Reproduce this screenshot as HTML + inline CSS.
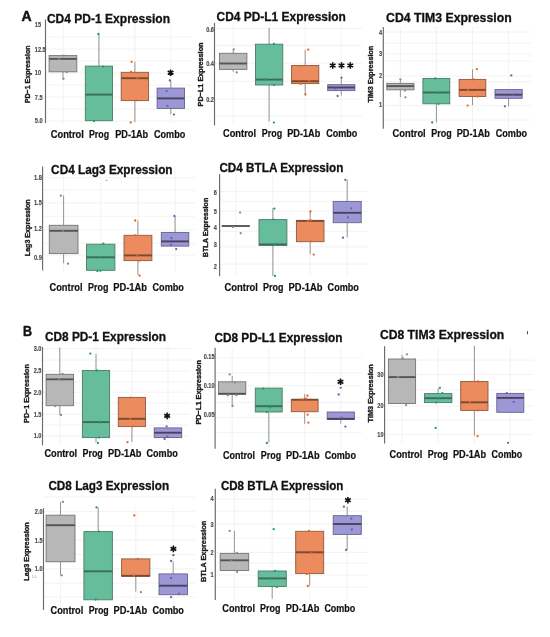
<!DOCTYPE html>
<html><head><meta charset="utf-8"><style>
html,body{margin:0;padding:0;background:#fff;width:550px;height:637px;overflow:hidden}
svg{display:block;font-family:"Liberation Sans", sans-serif;will-change:transform;filter:blur(0.3px)}
</style></head><body>
<svg width="550" height="637" viewBox="0 0 550 637">
<rect width="550" height="637" fill="#fff"/>
<line x1="45.5" y1="37" x2="192" y2="37" stroke="#efefef" stroke-width="0.8"/>
<line x1="45.5" y1="49" x2="192" y2="49" stroke="#efefef" stroke-width="0.8"/>
<line x1="45.5" y1="61" x2="192" y2="61" stroke="#efefef" stroke-width="0.8"/>
<line x1="45.5" y1="73" x2="192" y2="73" stroke="#efefef" stroke-width="0.8"/>
<line x1="45.5" y1="85" x2="192" y2="85" stroke="#efefef" stroke-width="0.8"/>
<line x1="45.5" y1="97" x2="192" y2="97" stroke="#efefef" stroke-width="0.8"/>
<line x1="45.5" y1="109" x2="192" y2="109" stroke="#efefef" stroke-width="0.8"/>
<line x1="45.5" y1="121" x2="192" y2="121" stroke="#efefef" stroke-width="0.8"/>
<line x1="63.0" y1="19.5" x2="63.0" y2="123" stroke="#efefef" stroke-width="0.8"/>
<line x1="98.9" y1="19.5" x2="98.9" y2="123" stroke="#efefef" stroke-width="0.8"/>
<line x1="134.9" y1="19.5" x2="134.9" y2="123" stroke="#efefef" stroke-width="0.8"/>
<line x1="170.8" y1="19.5" x2="170.8" y2="123" stroke="#efefef" stroke-width="0.8"/>
<line x1="63.0" y1="71.8" x2="63.0" y2="79" stroke="#959595" stroke-width="1.0"/>
<rect x="49.1" y="55.6" width="27.7" height="16.2" fill="#b7b7b7" stroke="#747474" stroke-width="0.9"/>
<line x1="49.1" y1="58.9" x2="76.8" y2="58.9" stroke="#555555" stroke-width="1.9"/>
<line x1="98.9" y1="34" x2="98.9" y2="66.1" stroke="#959595" stroke-width="1.0"/>
<line x1="98.9" y1="120.7" x2="98.9" y2="121" stroke="#959595" stroke-width="1.0"/>
<rect x="85.3" y="66.1" width="27.2" height="54.6" fill="#66bd9b" stroke="#4a7d69" stroke-width="0.9"/>
<line x1="85.3" y1="94.6" x2="112.5" y2="94.6" stroke="#3d6b59" stroke-width="1.9"/>
<line x1="134.9" y1="61.8" x2="134.9" y2="72.3" stroke="#959595" stroke-width="1.0"/>
<line x1="134.9" y1="100.6" x2="134.9" y2="122" stroke="#959595" stroke-width="1.0"/>
<rect x="121.2" y="72.3" width="27.4" height="28.3" fill="#ec8b5e" stroke="#8f5a3e" stroke-width="0.9"/>
<line x1="121.2" y1="78.2" x2="148.6" y2="78.2" stroke="#7a4a31" stroke-width="1.9"/>
<line x1="170.8" y1="80.5" x2="170.8" y2="88.1" stroke="#959595" stroke-width="1.0"/>
<line x1="170.8" y1="108.4" x2="170.8" y2="114.3" stroke="#959595" stroke-width="1.0"/>
<rect x="157.1" y="88.1" width="27.4" height="20.3" fill="#9d98d5" stroke="#65628a" stroke-width="0.9"/>
<line x1="157.1" y1="98.4" x2="184.5" y2="98.4" stroke="#46445f" stroke-width="1.9"/>
<circle cx="63.8" cy="55.6" r="1.15" fill="#8a8a8a"/>
<circle cx="66.7" cy="72.1" r="1.15" fill="#8a8a8a"/>
<circle cx="63.5" cy="78.8" r="1.15" fill="#8a8a8a"/>
<circle cx="59" cy="58.7" r="1.15" fill="#8a8a8a"/>
<circle cx="98.4" cy="34" r="1.15" fill="#1e9c6c"/>
<circle cx="103.1" cy="66.6" r="1.15" fill="#1e9c6c"/>
<circle cx="96.8" cy="94.9" r="1.15" fill="#1e9c6c"/>
<circle cx="94" cy="121.1" r="1.15" fill="#1e9c6c"/>
<circle cx="131.6" cy="61.8" r="1.15" fill="#e8621f"/>
<circle cx="131" cy="72" r="1.15" fill="#e8621f"/>
<circle cx="137.5" cy="78.2" r="1.15" fill="#e8621f"/>
<circle cx="136.1" cy="100.4" r="1.15" fill="#e8621f"/>
<circle cx="130.7" cy="122.5" r="1.15" fill="#e8621f"/>
<circle cx="169.8" cy="80.5" r="1.15" fill="#6a5fb6"/>
<circle cx="166.5" cy="91.1" r="1.15" fill="#6a5fb6"/>
<circle cx="167.5" cy="105.9" r="1.15" fill="#6a5fb6"/>
<circle cx="173.9" cy="114.6" r="1.15" fill="#6a5fb6"/>
<line x1="45.5" y1="19.5" x2="45.5" y2="123" stroke="#6a6a6a" stroke-width="1.15"/>
<text x="34.8" y="27.3" font-size="6.4" font-weight="bold" fill="#4a4a4a" text-anchor="start" textLength="6.2" lengthAdjust="spacingAndGlyphs" stroke="#4a4a4a" stroke-width="0.15">15</text>
<text x="34.8" y="52.3" font-size="6.4" font-weight="bold" fill="#4a4a4a" text-anchor="start" textLength="10.9" lengthAdjust="spacingAndGlyphs" stroke="#4a4a4a" stroke-width="0.15">12.5</text>
<text x="34.8" y="75.3" font-size="6.4" font-weight="bold" fill="#4a4a4a" text-anchor="start" textLength="6.2" lengthAdjust="spacingAndGlyphs" stroke="#4a4a4a" stroke-width="0.15">10</text>
<text x="34.8" y="99.8" font-size="6.4" font-weight="bold" fill="#4a4a4a" text-anchor="start" textLength="7.8" lengthAdjust="spacingAndGlyphs" stroke="#4a4a4a" stroke-width="0.15">7.5</text>
<text x="34.8" y="122.8" font-size="6.4" font-weight="bold" fill="#4a4a4a" text-anchor="start" textLength="7.8" lengthAdjust="spacingAndGlyphs" stroke="#4a4a4a" stroke-width="0.15">5.0</text>
<text x="46.9" y="23.4" font-size="12.4" font-weight="bold" fill="#111" text-anchor="start" textLength="123.1" lengthAdjust="spacingAndGlyphs" stroke="#111" stroke-width="0.3">CD4 PD-1 Expression</text>
<text transform="translate(30.0,103.2) rotate(-90)" font-size="8.0" font-weight="bold" fill="#1a1a1a" stroke="#1a1a1a" stroke-width="0.35" textLength="57.7" lengthAdjust="spacingAndGlyphs">PD−1 Expression</text>
<text x="50.7" y="138.4" font-size="10.3" font-weight="bold" fill="#111" text-anchor="start" textLength="33.2" lengthAdjust="spacingAndGlyphs" stroke="#111" stroke-width="0.2">Control</text>
<text x="88.9" y="138.4" font-size="10.3" font-weight="bold" fill="#111" text-anchor="start" textLength="20.2" lengthAdjust="spacingAndGlyphs" stroke="#111" stroke-width="0.2">Prog</text>
<text x="115.2" y="138.4" font-size="10.3" font-weight="bold" fill="#111" text-anchor="start" textLength="33.0" lengthAdjust="spacingAndGlyphs" stroke="#111" stroke-width="0.2">PD-1Ab</text>
<text x="154.0" y="138.4" font-size="10.3" font-weight="bold" fill="#111" text-anchor="start" textLength="31.3" lengthAdjust="spacingAndGlyphs" stroke="#111" stroke-width="0.2">Combo</text>
<path d="M170.60 69.40L170.60 76.00 M167.74 71.05L173.46 74.35 M167.74 74.35L173.46 71.05" stroke="#111" stroke-width="1.6" stroke-linecap="butt"/>
<line x1="214.5" y1="28.5" x2="362" y2="28.5" stroke="#efefef" stroke-width="0.8"/>
<line x1="214.5" y1="45.4" x2="362" y2="45.4" stroke="#efefef" stroke-width="0.8"/>
<line x1="214.5" y1="63.2" x2="362" y2="63.2" stroke="#efefef" stroke-width="0.8"/>
<line x1="214.5" y1="81.3" x2="362" y2="81.3" stroke="#efefef" stroke-width="0.8"/>
<line x1="214.5" y1="99.1" x2="362" y2="99.1" stroke="#efefef" stroke-width="0.8"/>
<line x1="214.5" y1="116" x2="362" y2="116" stroke="#efefef" stroke-width="0.8"/>
<line x1="233.2" y1="22.9" x2="233.2" y2="125.4" stroke="#efefef" stroke-width="0.8"/>
<line x1="269.1" y1="22.9" x2="269.1" y2="125.4" stroke="#efefef" stroke-width="0.8"/>
<line x1="305.2" y1="22.9" x2="305.2" y2="125.4" stroke="#efefef" stroke-width="0.8"/>
<line x1="341.3" y1="22.9" x2="341.3" y2="125.4" stroke="#efefef" stroke-width="0.8"/>
<line x1="233.2" y1="49.3" x2="233.2" y2="53.3" stroke="#959595" stroke-width="1.0"/>
<line x1="233.2" y1="69.4" x2="233.2" y2="71.8" stroke="#959595" stroke-width="1.0"/>
<rect x="219.4" y="53.3" width="27.5" height="16.1" fill="#b7b7b7" stroke="#747474" stroke-width="0.9"/>
<line x1="219.4" y1="63.5" x2="246.9" y2="63.5" stroke="#555555" stroke-width="1.9"/>
<line x1="269.1" y1="28" x2="269.1" y2="44.2" stroke="#959595" stroke-width="1.0"/>
<line x1="269.1" y1="85" x2="269.1" y2="121.5" stroke="#959595" stroke-width="1.0"/>
<rect x="255.5" y="44.2" width="27.3" height="40.8" fill="#66bd9b" stroke="#4a7d69" stroke-width="0.9"/>
<line x1="255.5" y1="79.6" x2="282.8" y2="79.6" stroke="#3d6b59" stroke-width="1.9"/>
<line x1="305.2" y1="49.8" x2="305.2" y2="65.5" stroke="#959595" stroke-width="1.0"/>
<line x1="305.2" y1="83.6" x2="305.2" y2="94.5" stroke="#959595" stroke-width="1.0"/>
<rect x="291.6" y="65.5" width="27.2" height="18.1" fill="#ec8b5e" stroke="#8f5a3e" stroke-width="0.9"/>
<line x1="291.6" y1="81.2" x2="318.8" y2="81.2" stroke="#7a4a31" stroke-width="1.9"/>
<line x1="341.3" y1="77.6" x2="341.3" y2="84.7" stroke="#959595" stroke-width="1.0"/>
<line x1="341.3" y1="90.6" x2="341.3" y2="95.6" stroke="#959595" stroke-width="1.0"/>
<rect x="327.7" y="84.7" width="27.2" height="5.9" fill="#9d98d5" stroke="#65628a" stroke-width="0.9"/>
<line x1="327.7" y1="87.5" x2="354.9" y2="87.5" stroke="#46445f" stroke-width="1.9"/>
<circle cx="233.8" cy="49.3" r="1.15" fill="#8a8a8a"/>
<circle cx="236.7" cy="72.4" r="1.15" fill="#8a8a8a"/>
<circle cx="273.9" cy="43.8" r="1.15" fill="#1e9c6c"/>
<circle cx="264.9" cy="79.2" r="1.15" fill="#1e9c6c"/>
<circle cx="273.9" cy="85.1" r="1.15" fill="#1e9c6c"/>
<circle cx="273.9" cy="122.6" r="1.15" fill="#1e9c6c"/>
<circle cx="308.2" cy="49.6" r="1.15" fill="#e8621f"/>
<circle cx="299.9" cy="65.8" r="1.15" fill="#e8621f"/>
<circle cx="309.3" cy="80.7" r="1.15" fill="#e8621f"/>
<circle cx="300.7" cy="83.9" r="1.15" fill="#e8621f"/>
<circle cx="305.4" cy="94.5" r="1.15" fill="#e8621f"/>
<circle cx="341.5" cy="77.6" r="1.15" fill="#6a5fb6"/>
<circle cx="335.5" cy="88.6" r="1.15" fill="#6a5fb6"/>
<circle cx="337.6" cy="96" r="1.15" fill="#6a5fb6"/>
<line x1="214.5" y1="22.9" x2="214.5" y2="125.4" stroke="#6a6a6a" stroke-width="1.15"/>
<text x="206.2" y="31.8" font-size="6.4" font-weight="bold" fill="#4a4a4a" text-anchor="start" textLength="7.8" lengthAdjust="spacingAndGlyphs" stroke="#4a4a4a" stroke-width="0.15">0.6</text>
<text x="206.2" y="65.5" font-size="6.4" font-weight="bold" fill="#4a4a4a" text-anchor="start" textLength="7.8" lengthAdjust="spacingAndGlyphs" stroke="#4a4a4a" stroke-width="0.15">0.4</text>
<text x="206.2" y="102.1" font-size="6.4" font-weight="bold" fill="#4a4a4a" text-anchor="start" textLength="7.8" lengthAdjust="spacingAndGlyphs" stroke="#4a4a4a" stroke-width="0.15">0.2</text>
<text x="216.6" y="21.3" font-size="12.4" font-weight="bold" fill="#111" text-anchor="start" textLength="129.3" lengthAdjust="spacingAndGlyphs" stroke="#111" stroke-width="0.3">CD4 PD-L1 Expression</text>
<text transform="translate(202.8,106.4) rotate(-90)" font-size="8.0" font-weight="bold" fill="#1a1a1a" stroke="#1a1a1a" stroke-width="0.35" textLength="63.9" lengthAdjust="spacingAndGlyphs">PD−L1 Expression</text>
<text x="223.0" y="137.1" font-size="10.3" font-weight="bold" fill="#111" text-anchor="start" textLength="33.0" lengthAdjust="spacingAndGlyphs" stroke="#111" stroke-width="0.2">Control</text>
<text x="261.8" y="137.1" font-size="10.3" font-weight="bold" fill="#111" text-anchor="start" textLength="20.4" lengthAdjust="spacingAndGlyphs" stroke="#111" stroke-width="0.2">Prog</text>
<text x="287.2" y="137.1" font-size="10.3" font-weight="bold" fill="#111" text-anchor="start" textLength="33.1" lengthAdjust="spacingAndGlyphs" stroke="#111" stroke-width="0.2">PD-1Ab</text>
<text x="326.2" y="137.1" font-size="10.3" font-weight="bold" fill="#111" text-anchor="start" textLength="31.1" lengthAdjust="spacingAndGlyphs" stroke="#111" stroke-width="0.2">Combo</text>
<path d="M332.70 62.20L332.70 68.80 M329.84 63.85L335.56 67.15 M329.84 67.15L335.56 63.85" stroke="#111" stroke-width="1.6" stroke-linecap="butt"/>
<path d="M341.50 62.20L341.50 68.80 M338.64 63.85L344.36 67.15 M338.64 67.15L344.36 63.85" stroke="#111" stroke-width="1.6" stroke-linecap="butt"/>
<path d="M350.30 62.20L350.30 68.80 M347.44 63.85L353.16 67.15 M347.44 67.15L353.16 63.85" stroke="#111" stroke-width="1.6" stroke-linecap="butt"/>
<line x1="383.3" y1="32" x2="531" y2="32" stroke="#efefef" stroke-width="0.8"/>
<line x1="383.3" y1="43" x2="531" y2="43" stroke="#efefef" stroke-width="0.8"/>
<line x1="383.3" y1="54" x2="531" y2="54" stroke="#efefef" stroke-width="0.8"/>
<line x1="383.3" y1="61" x2="531" y2="61" stroke="#efefef" stroke-width="0.8"/>
<line x1="383.3" y1="76" x2="531" y2="76" stroke="#efefef" stroke-width="0.8"/>
<line x1="383.3" y1="81.9" x2="531" y2="81.9" stroke="#efefef" stroke-width="0.8"/>
<line x1="383.3" y1="105.6" x2="531" y2="105.6" stroke="#efefef" stroke-width="0.8"/>
<line x1="383.3" y1="120" x2="531" y2="120" stroke="#efefef" stroke-width="0.8"/>
<line x1="400.4" y1="26.9" x2="400.4" y2="128.8" stroke="#efefef" stroke-width="0.8"/>
<line x1="436.4" y1="26.9" x2="436.4" y2="128.8" stroke="#efefef" stroke-width="0.8"/>
<line x1="472.5" y1="26.9" x2="472.5" y2="128.8" stroke="#efefef" stroke-width="0.8"/>
<line x1="508.6" y1="26.9" x2="508.6" y2="128.8" stroke="#efefef" stroke-width="0.8"/>
<line x1="400.4" y1="79.3" x2="400.4" y2="83.4" stroke="#959595" stroke-width="1.0"/>
<line x1="400.4" y1="89.8" x2="400.4" y2="97" stroke="#959595" stroke-width="1.0"/>
<rect x="386.8" y="83.4" width="27.2" height="6.4" fill="#b7b7b7" stroke="#747474" stroke-width="0.9"/>
<line x1="386.8" y1="86.1" x2="414" y2="86.1" stroke="#555555" stroke-width="1.9"/>
<line x1="436.4" y1="103.8" x2="436.4" y2="122.5" stroke="#959595" stroke-width="1.0"/>
<rect x="422.9" y="78.5" width="26.9" height="25.3" fill="#66bd9b" stroke="#4a7d69" stroke-width="0.9"/>
<line x1="422.9" y1="92.5" x2="449.8" y2="92.5" stroke="#3d6b59" stroke-width="1.9"/>
<line x1="472.5" y1="69.3" x2="472.5" y2="79.4" stroke="#959595" stroke-width="1.0"/>
<line x1="472.5" y1="96.5" x2="472.5" y2="105.2" stroke="#959595" stroke-width="1.0"/>
<rect x="459.1" y="79.4" width="26.7" height="17.1" fill="#ec8b5e" stroke="#8f5a3e" stroke-width="0.9"/>
<line x1="459.1" y1="89.9" x2="485.8" y2="89.9" stroke="#7a4a31" stroke-width="1.9"/>
<line x1="508.6" y1="98.3" x2="508.6" y2="106.2" stroke="#959595" stroke-width="1.0"/>
<rect x="495" y="89.6" width="27.2" height="8.7" fill="#9d98d5" stroke="#65628a" stroke-width="0.9"/>
<line x1="495" y1="94.7" x2="522.2" y2="94.7" stroke="#46445f" stroke-width="1.9"/>
<circle cx="400.4" cy="79.3" r="1.15" fill="#8a8a8a"/>
<circle cx="405.5" cy="97.3" r="1.15" fill="#8a8a8a"/>
<circle cx="405" cy="90.5" r="1.15" fill="#8a8a8a"/>
<circle cx="435.2" cy="78.5" r="1.15" fill="#1e9c6c"/>
<circle cx="439.3" cy="92.9" r="1.15" fill="#1e9c6c"/>
<circle cx="438.6" cy="103.8" r="1.15" fill="#1e9c6c"/>
<circle cx="432.2" cy="122.5" r="1.15" fill="#1e9c6c"/>
<circle cx="476.8" cy="69.1" r="1.15" fill="#e8621f"/>
<circle cx="473.6" cy="79.4" r="1.15" fill="#e8621f"/>
<circle cx="468.1" cy="89.9" r="1.15" fill="#e8621f"/>
<circle cx="477.5" cy="96.5" r="1.15" fill="#e8621f"/>
<circle cx="467.7" cy="105.6" r="1.15" fill="#e8621f"/>
<circle cx="511.3" cy="75.4" r="1.15" fill="#6a5fb6"/>
<circle cx="512.5" cy="94.6" r="1.15" fill="#6a5fb6"/>
<circle cx="504.9" cy="106.3" r="1.15" fill="#6a5fb6"/>
<line x1="383.3" y1="26.9" x2="383.3" y2="128.8" stroke="#6a6a6a" stroke-width="1.15"/>
<text x="379.0" y="34.7" font-size="6.4" font-weight="bold" fill="#4a4a4a" text-anchor="start" textLength="3.1" lengthAdjust="spacingAndGlyphs" stroke="#4a4a4a" stroke-width="0.15">4</text>
<text x="379.0" y="56.3" font-size="6.4" font-weight="bold" fill="#4a4a4a" text-anchor="start" textLength="3.1" lengthAdjust="spacingAndGlyphs" stroke="#4a4a4a" stroke-width="0.15">3</text>
<text x="379.0" y="78.4" font-size="6.4" font-weight="bold" fill="#4a4a4a" text-anchor="start" textLength="3.1" lengthAdjust="spacingAndGlyphs" stroke="#4a4a4a" stroke-width="0.15">2</text>
<text x="379.0" y="107.4" font-size="6.4" font-weight="bold" fill="#4a4a4a" text-anchor="start" textLength="3.1" lengthAdjust="spacingAndGlyphs" stroke="#4a4a4a" stroke-width="0.15">1</text>
<text x="386.1" y="22.1" font-size="12.4" font-weight="bold" fill="#111" text-anchor="start" textLength="125.6" lengthAdjust="spacingAndGlyphs" stroke="#111" stroke-width="0.3">CD4 TIM3 Expression</text>
<text transform="translate(373.1,102.6) rotate(-90)" font-size="8.0" font-weight="bold" fill="#1a1a1a" stroke="#1a1a1a" stroke-width="0.35" textLength="56.7" lengthAdjust="spacingAndGlyphs">TIM3 Expression</text>
<text x="392.6" y="136.8" font-size="10.3" font-weight="bold" fill="#111" text-anchor="start" textLength="33.1" lengthAdjust="spacingAndGlyphs" stroke="#111" stroke-width="0.2">Control</text>
<text x="431.3" y="136.8" font-size="10.3" font-weight="bold" fill="#111" text-anchor="start" textLength="20.3" lengthAdjust="spacingAndGlyphs" stroke="#111" stroke-width="0.2">Prog</text>
<text x="456.7" y="136.8" font-size="10.3" font-weight="bold" fill="#111" text-anchor="start" textLength="33.2" lengthAdjust="spacingAndGlyphs" stroke="#111" stroke-width="0.2">PD-1Ab</text>
<text x="495.7" y="136.8" font-size="10.3" font-weight="bold" fill="#111" text-anchor="start" textLength="31.3" lengthAdjust="spacingAndGlyphs" stroke="#111" stroke-width="0.2">Combo</text>
<line x1="42.6" y1="177.7" x2="195" y2="177.7" stroke="#efefef" stroke-width="0.8"/>
<line x1="42.6" y1="190" x2="195" y2="190" stroke="#efefef" stroke-width="0.8"/>
<line x1="42.6" y1="202.9" x2="195" y2="202.9" stroke="#efefef" stroke-width="0.8"/>
<line x1="42.6" y1="216.3" x2="195" y2="216.3" stroke="#efefef" stroke-width="0.8"/>
<line x1="42.6" y1="229.7" x2="195" y2="229.7" stroke="#efefef" stroke-width="0.8"/>
<line x1="42.6" y1="243.2" x2="195" y2="243.2" stroke="#efefef" stroke-width="0.8"/>
<line x1="42.6" y1="255.1" x2="195" y2="255.1" stroke="#efefef" stroke-width="0.8"/>
<line x1="63.6" y1="166.5" x2="63.6" y2="270.6" stroke="#efefef" stroke-width="0.8"/>
<line x1="100.7" y1="166.5" x2="100.7" y2="270.6" stroke="#efefef" stroke-width="0.8"/>
<line x1="137.9" y1="166.5" x2="137.9" y2="270.6" stroke="#efefef" stroke-width="0.8"/>
<line x1="175.1" y1="166.5" x2="175.1" y2="270.6" stroke="#efefef" stroke-width="0.8"/>
<line x1="63.6" y1="195.4" x2="63.6" y2="225.3" stroke="#959595" stroke-width="1.0"/>
<line x1="63.6" y1="253.6" x2="63.6" y2="263.3" stroke="#959595" stroke-width="1.0"/>
<rect x="49.3" y="225.3" width="28.7" height="28.3" fill="#b7b7b7" stroke="#747474" stroke-width="0.9"/>
<line x1="49.3" y1="230.8" x2="78" y2="230.8" stroke="#555555" stroke-width="1.9"/>
<rect x="86.5" y="244.2" width="28.4" height="26.1" fill="#66bd9b" stroke="#4a7d69" stroke-width="0.9"/>
<line x1="86.5" y1="257.3" x2="114.9" y2="257.3" stroke="#3d6b59" stroke-width="1.9"/>
<line x1="137.9" y1="220.5" x2="137.9" y2="235.3" stroke="#959595" stroke-width="1.0"/>
<line x1="137.9" y1="260.6" x2="137.9" y2="275.2" stroke="#959595" stroke-width="1.0"/>
<rect x="124" y="235.3" width="27.9" height="25.3" fill="#ec8b5e" stroke="#8f5a3e" stroke-width="0.9"/>
<line x1="124" y1="255.4" x2="151.9" y2="255.4" stroke="#7a4a31" stroke-width="1.9"/>
<line x1="175.1" y1="216" x2="175.1" y2="232.4" stroke="#959595" stroke-width="1.0"/>
<rect x="161.3" y="232.4" width="27.5" height="13.7" fill="#9d98d5" stroke="#65628a" stroke-width="0.9"/>
<line x1="161.3" y1="241.4" x2="188.8" y2="241.4" stroke="#46445f" stroke-width="1.9"/>
<circle cx="60.9" cy="195.7" r="1.15" fill="#8a8a8a"/>
<circle cx="68" cy="263.7" r="1.15" fill="#8a8a8a"/>
<circle cx="63" cy="230.5" r="1.15" fill="#8a8a8a"/>
<circle cx="103.4" cy="243.6" r="1.15" fill="#1e9c6c"/>
<circle cx="100.1" cy="257.3" r="1.15" fill="#1e9c6c"/>
<circle cx="97.4" cy="271" r="1.15" fill="#1e9c6c"/>
<circle cx="100.4" cy="270.8" r="1.15" fill="#1e9c6c"/>
<circle cx="135.2" cy="220.5" r="1.15" fill="#e8621f"/>
<circle cx="135.2" cy="235.3" r="1.15" fill="#e8621f"/>
<circle cx="137.4" cy="255.1" r="1.15" fill="#e8621f"/>
<circle cx="139.6" cy="260.6" r="1.15" fill="#e8621f"/>
<circle cx="139.6" cy="275.7" r="1.15" fill="#e8621f"/>
<circle cx="174.4" cy="216" r="1.15" fill="#6a5fb6"/>
<circle cx="171.4" cy="238" r="1.15" fill="#6a5fb6"/>
<circle cx="171" cy="244.7" r="1.15" fill="#6a5fb6"/>
<circle cx="176.2" cy="249.1" r="1.15" fill="#6a5fb6"/>
<line x1="42.6" y1="166.5" x2="42.6" y2="270.6" stroke="#6a6a6a" stroke-width="1.15"/>
<text x="34.0" y="179.9" font-size="6.4" font-weight="bold" fill="#4a4a4a" text-anchor="start" textLength="7.8" lengthAdjust="spacingAndGlyphs" stroke="#4a4a4a" stroke-width="0.15">1.8</text>
<text x="34.0" y="205.2" font-size="6.4" font-weight="bold" fill="#4a4a4a" text-anchor="start" textLength="7.8" lengthAdjust="spacingAndGlyphs" stroke="#4a4a4a" stroke-width="0.15">1.5</text>
<text x="34.0" y="230.8" font-size="6.4" font-weight="bold" fill="#4a4a4a" text-anchor="start" textLength="7.8" lengthAdjust="spacingAndGlyphs" stroke="#4a4a4a" stroke-width="0.15">1.2</text>
<text x="34.0" y="260.3" font-size="6.4" font-weight="bold" fill="#4a4a4a" text-anchor="start" textLength="7.8" lengthAdjust="spacingAndGlyphs" stroke="#4a4a4a" stroke-width="0.15">0.9</text>
<text x="51.1" y="173.9" font-size="12.4" font-weight="bold" fill="#111" text-anchor="start" textLength="121.5" lengthAdjust="spacingAndGlyphs" stroke="#111" stroke-width="0.3">CD4 Lag3 Expression</text>
<text transform="translate(29.8,256.2) rotate(-90)" font-size="8.0" font-weight="bold" fill="#1a1a1a" stroke="#1a1a1a" stroke-width="0.35" textLength="56.9" lengthAdjust="spacingAndGlyphs">Lag3 Expression</text>
<text x="49.5" y="290.8" font-size="10.3" font-weight="bold" fill="#111" text-anchor="start" textLength="33.0" lengthAdjust="spacingAndGlyphs" stroke="#111" stroke-width="0.2">Control</text>
<text x="88.0" y="290.8" font-size="10.3" font-weight="bold" fill="#111" text-anchor="start" textLength="20.4" lengthAdjust="spacingAndGlyphs" stroke="#111" stroke-width="0.2">Prog</text>
<text x="113.2" y="290.8" font-size="10.3" font-weight="bold" fill="#111" text-anchor="start" textLength="33.9" lengthAdjust="spacingAndGlyphs" stroke="#111" stroke-width="0.2">PD-1Ab</text>
<text x="152.5" y="290.8" font-size="10.3" font-weight="bold" fill="#111" text-anchor="start" textLength="31.4" lengthAdjust="spacingAndGlyphs" stroke="#111" stroke-width="0.2">Combo</text>
<line x1="219.6" y1="191.6" x2="368" y2="191.6" stroke="#efefef" stroke-width="0.8"/>
<line x1="219.6" y1="201.6" x2="368" y2="201.6" stroke="#efefef" stroke-width="0.8"/>
<line x1="219.6" y1="211.1" x2="368" y2="211.1" stroke="#efefef" stroke-width="0.8"/>
<line x1="219.6" y1="231.3" x2="368" y2="231.3" stroke="#efefef" stroke-width="0.8"/>
<line x1="219.6" y1="246.9" x2="368" y2="246.9" stroke="#efefef" stroke-width="0.8"/>
<line x1="219.6" y1="264.1" x2="368" y2="264.1" stroke="#efefef" stroke-width="0.8"/>
<line x1="235.8" y1="174.3" x2="235.8" y2="276.2" stroke="#efefef" stroke-width="0.8"/>
<line x1="272.9" y1="174.3" x2="272.9" y2="276.2" stroke="#efefef" stroke-width="0.8"/>
<line x1="310.2" y1="174.3" x2="310.2" y2="276.2" stroke="#efefef" stroke-width="0.8"/>
<line x1="347.2" y1="174.3" x2="347.2" y2="276.2" stroke="#efefef" stroke-width="0.8"/>
<rect x="221.7" y="226" width="28.1" height="0.0" fill="#b7b7b7" stroke="#747474" stroke-width="0.9"/>
<line x1="221.7" y1="226" x2="249.8" y2="226" stroke="#555555" stroke-width="1.9"/>
<line x1="272.9" y1="208.1" x2="272.9" y2="219.6" stroke="#959595" stroke-width="1.0"/>
<line x1="272.9" y1="245.4" x2="272.9" y2="276" stroke="#959595" stroke-width="1.0"/>
<rect x="259" y="219.6" width="27.9" height="25.8" fill="#66bd9b" stroke="#4a7d69" stroke-width="0.9"/>
<line x1="259" y1="244.4" x2="286.9" y2="244.4" stroke="#3d6b59" stroke-width="1.9"/>
<line x1="310.2" y1="211.5" x2="310.2" y2="220.4" stroke="#959595" stroke-width="1.0"/>
<line x1="310.2" y1="241.7" x2="310.2" y2="254.3" stroke="#959595" stroke-width="1.0"/>
<rect x="296.4" y="220.4" width="27.6" height="21.3" fill="#ec8b5e" stroke="#8f5a3e" stroke-width="0.9"/>
<line x1="296.4" y1="220.9" x2="324" y2="220.9" stroke="#7a4a31" stroke-width="1.9"/>
<line x1="347.2" y1="179.8" x2="347.2" y2="201.4" stroke="#959595" stroke-width="1.0"/>
<line x1="347.2" y1="222.7" x2="347.2" y2="237.4" stroke="#959595" stroke-width="1.0"/>
<rect x="333.2" y="201.4" width="28.0" height="21.3" fill="#9d98d5" stroke="#65628a" stroke-width="0.9"/>
<line x1="333.2" y1="212.8" x2="361.2" y2="212.8" stroke="#46445f" stroke-width="1.9"/>
<circle cx="240.1" cy="212.6" r="1.15" fill="#8a8a8a"/>
<circle cx="240.7" cy="233.2" r="1.15" fill="#8a8a8a"/>
<circle cx="232.9" cy="227.1" r="1.15" fill="#8a8a8a"/>
<circle cx="274.4" cy="208.6" r="1.15" fill="#1e9c6c"/>
<circle cx="273.6" cy="219.6" r="1.15" fill="#1e9c6c"/>
<circle cx="275" cy="244.7" r="1.15" fill="#1e9c6c"/>
<circle cx="275" cy="276" r="1.15" fill="#1e9c6c"/>
<circle cx="310.4" cy="211.5" r="1.15" fill="#e8621f"/>
<circle cx="307.8" cy="221" r="1.15" fill="#e8621f"/>
<circle cx="310.7" cy="220.4" r="1.15" fill="#e8621f"/>
<circle cx="310.7" cy="241.3" r="1.15" fill="#e8621f"/>
<circle cx="313.7" cy="254.6" r="1.15" fill="#e8621f"/>
<circle cx="345.3" cy="179.8" r="1.15" fill="#6a5fb6"/>
<circle cx="351.3" cy="208.3" r="1.15" fill="#6a5fb6"/>
<circle cx="347.9" cy="217.5" r="1.15" fill="#6a5fb6"/>
<circle cx="343" cy="237.7" r="1.15" fill="#6a5fb6"/>
<line x1="219.6" y1="174.3" x2="219.6" y2="276.2" stroke="#6a6a6a" stroke-width="1.15"/>
<text x="213.7" y="195.1" font-size="6.4" font-weight="bold" fill="#4a4a4a" text-anchor="start" textLength="3.1" lengthAdjust="spacingAndGlyphs" stroke="#4a4a4a" stroke-width="0.15">6</text>
<text x="213.7" y="213.8" font-size="6.4" font-weight="bold" fill="#4a4a4a" text-anchor="start" textLength="3.1" lengthAdjust="spacingAndGlyphs" stroke="#4a4a4a" stroke-width="0.15">5</text>
<text x="213.7" y="230.2" font-size="6.4" font-weight="bold" fill="#4a4a4a" text-anchor="start" textLength="3.1" lengthAdjust="spacingAndGlyphs" stroke="#4a4a4a" stroke-width="0.15">4</text>
<text x="213.7" y="247.4" font-size="6.4" font-weight="bold" fill="#4a4a4a" text-anchor="start" textLength="3.1" lengthAdjust="spacingAndGlyphs" stroke="#4a4a4a" stroke-width="0.15">3</text>
<text x="213.7" y="269.0" font-size="6.4" font-weight="bold" fill="#4a4a4a" text-anchor="start" textLength="3.1" lengthAdjust="spacingAndGlyphs" stroke="#4a4a4a" stroke-width="0.15">2</text>
<text x="219.4" y="172.2" font-size="12.4" font-weight="bold" fill="#111" text-anchor="start" textLength="124.0" lengthAdjust="spacingAndGlyphs" stroke="#111" stroke-width="0.3">CD4 BTLA Expression</text>
<text transform="translate(207.7,257.2) rotate(-90)" font-size="8.0" font-weight="bold" fill="#1a1a1a" stroke="#1a1a1a" stroke-width="0.35" textLength="59.6" lengthAdjust="spacingAndGlyphs">BTLA Expression</text>
<text x="224.5" y="291.3" font-size="10.3" font-weight="bold" fill="#111" text-anchor="start" textLength="33.4" lengthAdjust="spacingAndGlyphs" stroke="#111" stroke-width="0.2">Control</text>
<text x="263.0" y="291.3" font-size="10.3" font-weight="bold" fill="#111" text-anchor="start" textLength="20.4" lengthAdjust="spacingAndGlyphs" stroke="#111" stroke-width="0.2">Prog</text>
<text x="288.6" y="291.3" font-size="10.3" font-weight="bold" fill="#111" text-anchor="start" textLength="33.9" lengthAdjust="spacingAndGlyphs" stroke="#111" stroke-width="0.2">PD-1Ab</text>
<text x="327.6" y="291.3" font-size="10.3" font-weight="bold" fill="#111" text-anchor="start" textLength="31.3" lengthAdjust="spacingAndGlyphs" stroke="#111" stroke-width="0.2">Combo</text>
<line x1="42.5" y1="348.6" x2="190" y2="348.6" stroke="#efefef" stroke-width="0.8"/>
<line x1="42.5" y1="360" x2="190" y2="360" stroke="#efefef" stroke-width="0.8"/>
<line x1="42.5" y1="371.1" x2="190" y2="371.1" stroke="#efefef" stroke-width="0.8"/>
<line x1="42.5" y1="381.7" x2="190" y2="381.7" stroke="#efefef" stroke-width="0.8"/>
<line x1="42.5" y1="392.2" x2="190" y2="392.2" stroke="#efefef" stroke-width="0.8"/>
<line x1="42.5" y1="403" x2="190" y2="403" stroke="#efefef" stroke-width="0.8"/>
<line x1="42.5" y1="414.3" x2="190" y2="414.3" stroke="#efefef" stroke-width="0.8"/>
<line x1="42.5" y1="425" x2="190" y2="425" stroke="#efefef" stroke-width="0.8"/>
<line x1="42.5" y1="435.9" x2="190" y2="435.9" stroke="#efefef" stroke-width="0.8"/>
<line x1="59.8" y1="346.9" x2="59.8" y2="445.4" stroke="#efefef" stroke-width="0.8"/>
<line x1="96.0" y1="346.9" x2="96.0" y2="445.4" stroke="#efefef" stroke-width="0.8"/>
<line x1="131.9" y1="346.9" x2="131.9" y2="445.4" stroke="#efefef" stroke-width="0.8"/>
<line x1="167.9" y1="346.9" x2="167.9" y2="445.4" stroke="#efefef" stroke-width="0.8"/>
<line x1="59.8" y1="347.5" x2="59.8" y2="374.3" stroke="#959595" stroke-width="1.0"/>
<line x1="59.8" y1="405.7" x2="59.8" y2="415" stroke="#959595" stroke-width="1.0"/>
<rect x="46.1" y="374.3" width="27.5" height="31.4" fill="#b7b7b7" stroke="#747474" stroke-width="0.9"/>
<line x1="46.1" y1="379.3" x2="73.6" y2="379.3" stroke="#555555" stroke-width="1.9"/>
<line x1="96.0" y1="354" x2="96.0" y2="370.5" stroke="#959595" stroke-width="1.0"/>
<line x1="96.0" y1="437.6" x2="96.0" y2="442.2" stroke="#959595" stroke-width="1.0"/>
<rect x="82.4" y="370.5" width="27.2" height="67.1" fill="#66bd9b" stroke="#4a7d69" stroke-width="0.9"/>
<line x1="82.4" y1="422.1" x2="109.6" y2="422.1" stroke="#3d6b59" stroke-width="1.9"/>
<line x1="131.9" y1="426.6" x2="131.9" y2="441.9" stroke="#959595" stroke-width="1.0"/>
<rect x="118.3" y="397.4" width="27.2" height="29.2" fill="#ec8b5e" stroke="#8f5a3e" stroke-width="0.9"/>
<line x1="118.3" y1="418.8" x2="145.5" y2="418.8" stroke="#7a4a31" stroke-width="1.9"/>
<rect x="154.2" y="427.9" width="27.5" height="9.7" fill="#9d98d5" stroke="#65628a" stroke-width="0.9"/>
<line x1="154.2" y1="432.7" x2="181.7" y2="432.7" stroke="#46445f" stroke-width="1.9"/>
<circle cx="62.6" cy="373.8" r="1.15" fill="#8a8a8a"/>
<circle cx="55.2" cy="406" r="1.15" fill="#8a8a8a"/>
<circle cx="61" cy="415" r="1.15" fill="#8a8a8a"/>
<circle cx="59.3" cy="379.3" r="1.15" fill="#8a8a8a"/>
<circle cx="90.3" cy="353.6" r="1.15" fill="#1e9c6c"/>
<circle cx="96.9" cy="370.5" r="1.15" fill="#1e9c6c"/>
<circle cx="100.5" cy="422.5" r="1.15" fill="#1e9c6c"/>
<circle cx="98.9" cy="437.6" r="1.15" fill="#1e9c6c"/>
<circle cx="98" cy="443" r="1.15" fill="#1e9c6c"/>
<circle cx="130.3" cy="397.7" r="1.15" fill="#e8621f"/>
<circle cx="130.3" cy="418.8" r="1.15" fill="#e8621f"/>
<circle cx="132.8" cy="426.3" r="1.15" fill="#e8621f"/>
<circle cx="127.5" cy="442.2" r="1.15" fill="#e8621f"/>
<circle cx="166.6" cy="426.3" r="1.15" fill="#6a5fb6"/>
<circle cx="164.6" cy="439" r="1.15" fill="#6a5fb6"/>
<circle cx="167.4" cy="436.5" r="1.15" fill="#6a5fb6"/>
<line x1="42.5" y1="346.9" x2="42.5" y2="445.4" stroke="#6a6a6a" stroke-width="1.15"/>
<text x="33.7" y="350.9" font-size="6.4" font-weight="bold" fill="#4a4a4a" text-anchor="start" textLength="7.8" lengthAdjust="spacingAndGlyphs" stroke="#4a4a4a" stroke-width="0.15">3.0</text>
<text x="33.7" y="373.4" font-size="6.4" font-weight="bold" fill="#4a4a4a" text-anchor="start" textLength="7.8" lengthAdjust="spacingAndGlyphs" stroke="#4a4a4a" stroke-width="0.15">2.5</text>
<text x="33.7" y="394.5" font-size="6.4" font-weight="bold" fill="#4a4a4a" text-anchor="start" textLength="7.8" lengthAdjust="spacingAndGlyphs" stroke="#4a4a4a" stroke-width="0.15">2.0</text>
<text x="33.7" y="416.6" font-size="6.4" font-weight="bold" fill="#4a4a4a" text-anchor="start" textLength="7.8" lengthAdjust="spacingAndGlyphs" stroke="#4a4a4a" stroke-width="0.15">1.5</text>
<text x="33.7" y="438.2" font-size="6.4" font-weight="bold" fill="#4a4a4a" text-anchor="start" textLength="7.8" lengthAdjust="spacingAndGlyphs" stroke="#4a4a4a" stroke-width="0.15">1.0</text>
<text x="44.9" y="340.9" font-size="12.4" font-weight="bold" fill="#111" text-anchor="start" textLength="121.2" lengthAdjust="spacingAndGlyphs" stroke="#111" stroke-width="0.3">CD8 PD-1 Expression</text>
<text transform="translate(28.6,422.9) rotate(-90)" font-size="8.0" font-weight="bold" fill="#1a1a1a" stroke="#1a1a1a" stroke-width="0.35" textLength="58.7" lengthAdjust="spacingAndGlyphs">PD−1 Expression</text>
<text x="44.4" y="457.3" font-size="10.3" font-weight="bold" fill="#111" text-anchor="start" textLength="32.7" lengthAdjust="spacingAndGlyphs" stroke="#111" stroke-width="0.2">Control</text>
<text x="82.5" y="457.3" font-size="10.3" font-weight="bold" fill="#111" text-anchor="start" textLength="20.3" lengthAdjust="spacingAndGlyphs" stroke="#111" stroke-width="0.2">Prog</text>
<text x="108.0" y="457.3" font-size="10.3" font-weight="bold" fill="#111" text-anchor="start" textLength="33.5" lengthAdjust="spacingAndGlyphs" stroke="#111" stroke-width="0.2">PD-1Ab</text>
<text x="146.5" y="457.3" font-size="10.3" font-weight="bold" fill="#111" text-anchor="start" textLength="31.3" lengthAdjust="spacingAndGlyphs" stroke="#111" stroke-width="0.2">Combo</text>
<path d="M167.10 412.60L167.10 419.20 M164.24 414.25L169.96 417.55 M164.24 417.55L169.96 414.25" stroke="#111" stroke-width="1.6" stroke-linecap="butt"/>
<line x1="215.1" y1="358" x2="362" y2="358" stroke="#efefef" stroke-width="0.8"/>
<line x1="215.1" y1="372.9" x2="362" y2="372.9" stroke="#efefef" stroke-width="0.8"/>
<line x1="215.1" y1="385.8" x2="362" y2="385.8" stroke="#efefef" stroke-width="0.8"/>
<line x1="215.1" y1="402.4" x2="362" y2="402.4" stroke="#efefef" stroke-width="0.8"/>
<line x1="215.1" y1="417.6" x2="362" y2="417.6" stroke="#efefef" stroke-width="0.8"/>
<line x1="215.1" y1="432.6" x2="362" y2="432.6" stroke="#efefef" stroke-width="0.8"/>
<line x1="232.2" y1="347.8" x2="232.2" y2="448.8" stroke="#efefef" stroke-width="0.8"/>
<line x1="268.8" y1="347.8" x2="268.8" y2="448.8" stroke="#efefef" stroke-width="0.8"/>
<line x1="304.7" y1="347.8" x2="304.7" y2="448.8" stroke="#efefef" stroke-width="0.8"/>
<line x1="340.8" y1="347.8" x2="340.8" y2="448.8" stroke="#efefef" stroke-width="0.8"/>
<line x1="232.2" y1="375.9" x2="232.2" y2="381.8" stroke="#959595" stroke-width="1.0"/>
<line x1="232.2" y1="394.1" x2="232.2" y2="406" stroke="#959595" stroke-width="1.0"/>
<rect x="218.5" y="381.8" width="27.3" height="12.3" fill="#b7b7b7" stroke="#747474" stroke-width="0.9"/>
<line x1="218.5" y1="393.8" x2="245.8" y2="393.8" stroke="#555555" stroke-width="1.9"/>
<line x1="268.8" y1="412" x2="268.8" y2="442.2" stroke="#959595" stroke-width="1.0"/>
<rect x="255.3" y="388.1" width="26.9" height="23.9" fill="#66bd9b" stroke="#4a7d69" stroke-width="0.9"/>
<line x1="255.3" y1="406.2" x2="282.2" y2="406.2" stroke="#3d6b59" stroke-width="1.9"/>
<line x1="304.7" y1="394.1" x2="304.7" y2="399.7" stroke="#959595" stroke-width="1.0"/>
<line x1="304.7" y1="411.7" x2="304.7" y2="423.9" stroke="#959595" stroke-width="1.0"/>
<rect x="291.3" y="399.7" width="26.8" height="12.0" fill="#ec8b5e" stroke="#8f5a3e" stroke-width="0.9"/>
<line x1="291.3" y1="399.7" x2="318.1" y2="399.7" stroke="#7a4a31" stroke-width="1.9"/>
<line x1="340.8" y1="419.4" x2="340.8" y2="423.6" stroke="#959595" stroke-width="1.0"/>
<rect x="327.2" y="412" width="27.2" height="7.4" fill="#9d98d5" stroke="#65628a" stroke-width="0.9"/>
<line x1="327.2" y1="418.8" x2="354.4" y2="418.8" stroke="#46445f" stroke-width="1.9"/>
<circle cx="229.7" cy="374.4" r="1.15" fill="#8a8a8a"/>
<circle cx="234.9" cy="382.6" r="1.15" fill="#8a8a8a"/>
<circle cx="227.7" cy="395.3" r="1.15" fill="#8a8a8a"/>
<circle cx="236.4" cy="395.3" r="1.15" fill="#8a8a8a"/>
<circle cx="232.6" cy="406" r="1.15" fill="#8a8a8a"/>
<circle cx="263.2" cy="388.6" r="1.15" fill="#1e9c6c"/>
<circle cx="269.9" cy="407.5" r="1.15" fill="#1e9c6c"/>
<circle cx="266.6" cy="412.1" r="1.15" fill="#1e9c6c"/>
<circle cx="266.9" cy="443" r="1.15" fill="#1e9c6c"/>
<circle cx="307.4" cy="395.7" r="1.15" fill="#e8621f"/>
<circle cx="302.2" cy="399.4" r="1.15" fill="#e8621f"/>
<circle cx="306.2" cy="398.7" r="1.15" fill="#e8621f"/>
<circle cx="307.7" cy="414.7" r="1.15" fill="#e8621f"/>
<circle cx="308.4" cy="422.6" r="1.15" fill="#e8621f"/>
<circle cx="338.7" cy="394.5" r="1.15" fill="#6a5fb6"/>
<circle cx="341.7" cy="417.6" r="1.15" fill="#6a5fb6"/>
<circle cx="345.4" cy="426.6" r="1.15" fill="#6a5fb6"/>
<line x1="215.1" y1="347.8" x2="215.1" y2="448.8" stroke="#6a6a6a" stroke-width="1.15"/>
<text x="203.7" y="359.2" font-size="6.4" font-weight="bold" fill="#4a4a4a" text-anchor="start" textLength="10.9" lengthAdjust="spacingAndGlyphs" stroke="#4a4a4a" stroke-width="0.15">0.15</text>
<text x="203.7" y="388.1" font-size="6.4" font-weight="bold" fill="#4a4a4a" text-anchor="start" textLength="10.9" lengthAdjust="spacingAndGlyphs" stroke="#4a4a4a" stroke-width="0.15">0.10</text>
<text x="203.7" y="416.9" font-size="6.4" font-weight="bold" fill="#4a4a4a" text-anchor="start" textLength="10.9" lengthAdjust="spacingAndGlyphs" stroke="#4a4a4a" stroke-width="0.15">0.05</text>
<text x="214.4" y="341.5" font-size="12.4" font-weight="bold" fill="#111" text-anchor="start" textLength="128.1" lengthAdjust="spacingAndGlyphs" stroke="#111" stroke-width="0.3">CD8 PD-L1 Expression</text>
<text transform="translate(200.5,424.6) rotate(-90)" font-size="8.0" font-weight="bold" fill="#1a1a1a" stroke="#1a1a1a" stroke-width="0.35" textLength="64.7" lengthAdjust="spacingAndGlyphs">PD−L1 Expression</text>
<text x="223.0" y="458.8" font-size="10.3" font-weight="bold" fill="#111" text-anchor="start" textLength="32.0" lengthAdjust="spacingAndGlyphs" stroke="#111" stroke-width="0.2">Control</text>
<text x="260.8" y="458.8" font-size="10.3" font-weight="bold" fill="#111" text-anchor="start" textLength="20.4" lengthAdjust="spacingAndGlyphs" stroke="#111" stroke-width="0.2">Prog</text>
<text x="286.1" y="458.8" font-size="10.3" font-weight="bold" fill="#111" text-anchor="start" textLength="33.5" lengthAdjust="spacingAndGlyphs" stroke="#111" stroke-width="0.2">PD-1Ab</text>
<text x="324.8" y="458.8" font-size="10.3" font-weight="bold" fill="#111" text-anchor="start" textLength="31.1" lengthAdjust="spacingAndGlyphs" stroke="#111" stroke-width="0.2">Combo</text>
<path d="M340.50 378.50L340.50 385.10 M337.64 380.15L343.36 383.45 M337.64 383.45L343.36 380.15" stroke="#111" stroke-width="1.6" stroke-linecap="butt"/>
<line x1="384.6" y1="360" x2="533" y2="360" stroke="#efefef" stroke-width="0.8"/>
<line x1="384.6" y1="374.5" x2="533" y2="374.5" stroke="#efefef" stroke-width="0.8"/>
<line x1="384.6" y1="390" x2="533" y2="390" stroke="#efefef" stroke-width="0.8"/>
<line x1="384.6" y1="406" x2="533" y2="406" stroke="#efefef" stroke-width="0.8"/>
<line x1="384.6" y1="420" x2="533" y2="420" stroke="#efefef" stroke-width="0.8"/>
<line x1="384.6" y1="434.6" x2="533" y2="434.6" stroke="#efefef" stroke-width="0.8"/>
<line x1="402.0" y1="346.3" x2="402.0" y2="443.6" stroke="#efefef" stroke-width="0.8"/>
<line x1="438.2" y1="346.3" x2="438.2" y2="443.6" stroke="#efefef" stroke-width="0.8"/>
<line x1="474.4" y1="346.3" x2="474.4" y2="443.6" stroke="#efefef" stroke-width="0.8"/>
<line x1="510.3" y1="346.3" x2="510.3" y2="443.6" stroke="#efefef" stroke-width="0.8"/>
<line x1="402.0" y1="354.8" x2="402.0" y2="359" stroke="#959595" stroke-width="1.0"/>
<rect x="388.4" y="359" width="27.2" height="44.5" fill="#b7b7b7" stroke="#747474" stroke-width="0.9"/>
<line x1="388.4" y1="377.1" x2="415.6" y2="377.1" stroke="#555555" stroke-width="1.9"/>
<line x1="438.2" y1="388.1" x2="438.2" y2="393.6" stroke="#959595" stroke-width="1.0"/>
<rect x="424.5" y="393.6" width="27.4" height="9.0" fill="#66bd9b" stroke="#4a7d69" stroke-width="0.9"/>
<line x1="424.5" y1="398.2" x2="451.9" y2="398.2" stroke="#3d6b59" stroke-width="1.9"/>
<line x1="474.4" y1="345.7" x2="474.4" y2="381.5" stroke="#959595" stroke-width="1.0"/>
<line x1="474.4" y1="410.4" x2="474.4" y2="435.8" stroke="#959595" stroke-width="1.0"/>
<rect x="460.7" y="381.5" width="27.3" height="28.9" fill="#ec8b5e" stroke="#8f5a3e" stroke-width="0.9"/>
<line x1="460.7" y1="402.3" x2="488" y2="402.3" stroke="#7a4a31" stroke-width="1.9"/>
<rect x="496.8" y="393.4" width="27.0" height="18.9" fill="#9d98d5" stroke="#65628a" stroke-width="0.9"/>
<line x1="496.8" y1="397.9" x2="523.8" y2="397.9" stroke="#46445f" stroke-width="1.9"/>
<circle cx="406.9" cy="354.3" r="1.15" fill="#8a8a8a"/>
<circle cx="402.8" cy="358.5" r="1.15" fill="#8a8a8a"/>
<circle cx="406.1" cy="405.1" r="1.15" fill="#8a8a8a"/>
<circle cx="398.2" cy="377.1" r="1.15" fill="#8a8a8a"/>
<circle cx="439.9" cy="387.8" r="1.15" fill="#1e9c6c"/>
<circle cx="442.3" cy="393.1" r="1.15" fill="#1e9c6c"/>
<circle cx="438.2" cy="398.5" r="1.15" fill="#1e9c6c"/>
<circle cx="436.1" cy="402.6" r="1.15" fill="#1e9c6c"/>
<circle cx="435.7" cy="427.9" r="1.15" fill="#1e9c6c"/>
<circle cx="478" cy="381.5" r="1.15" fill="#e8621f"/>
<circle cx="470.1" cy="401.9" r="1.15" fill="#e8621f"/>
<circle cx="478" cy="410.4" r="1.15" fill="#e8621f"/>
<circle cx="477.6" cy="436.2" r="1.15" fill="#e8621f"/>
<circle cx="506.8" cy="393.2" r="1.15" fill="#6a5fb6"/>
<circle cx="513.8" cy="401.9" r="1.15" fill="#6a5fb6"/>
<circle cx="508.1" cy="442.8" r="1.15" fill="#6a5fb6"/>
<line x1="384.6" y1="346.3" x2="384.6" y2="443.6" stroke="#6a6a6a" stroke-width="1.15"/>
<text x="377.3" y="376.8" font-size="6.4" font-weight="bold" fill="#4a4a4a" text-anchor="start" textLength="6.2" lengthAdjust="spacingAndGlyphs" stroke="#4a4a4a" stroke-width="0.15">30</text>
<text x="377.3" y="408.3" font-size="6.4" font-weight="bold" fill="#4a4a4a" text-anchor="start" textLength="6.2" lengthAdjust="spacingAndGlyphs" stroke="#4a4a4a" stroke-width="0.15">20</text>
<text x="377.3" y="436.9" font-size="6.4" font-weight="bold" fill="#4a4a4a" text-anchor="start" textLength="6.2" lengthAdjust="spacingAndGlyphs" stroke="#4a4a4a" stroke-width="0.15">10</text>
<text x="379.9" y="339.3" font-size="12.4" font-weight="bold" fill="#111" text-anchor="start" textLength="124.4" lengthAdjust="spacingAndGlyphs" stroke="#111" stroke-width="0.3">CD8 TIM3 Expression</text>
<text transform="translate(372.7,422.6) rotate(-90)" font-size="8.0" font-weight="bold" fill="#1a1a1a" stroke="#1a1a1a" stroke-width="0.35" textLength="58.4" lengthAdjust="spacingAndGlyphs">TIM3 Expression</text>
<text x="389.5" y="458.4" font-size="10.3" font-weight="bold" fill="#111" text-anchor="start" textLength="32.7" lengthAdjust="spacingAndGlyphs" stroke="#111" stroke-width="0.2">Control</text>
<text x="427.7" y="458.4" font-size="10.3" font-weight="bold" fill="#111" text-anchor="start" textLength="20.4" lengthAdjust="spacingAndGlyphs" stroke="#111" stroke-width="0.2">Prog</text>
<text x="452.9" y="458.4" font-size="10.3" font-weight="bold" fill="#111" text-anchor="start" textLength="33.2" lengthAdjust="spacingAndGlyphs" stroke="#111" stroke-width="0.2">PD-1Ab</text>
<text x="491.5" y="458.4" font-size="10.3" font-weight="bold" fill="#111" text-anchor="start" textLength="30.8" lengthAdjust="spacingAndGlyphs" stroke="#111" stroke-width="0.2">Combo</text>
<line x1="43.5" y1="497" x2="195" y2="497" stroke="#efefef" stroke-width="0.8"/>
<line x1="43.5" y1="511.6" x2="195" y2="511.6" stroke="#efefef" stroke-width="0.8"/>
<line x1="43.5" y1="526" x2="195" y2="526" stroke="#efefef" stroke-width="0.8"/>
<line x1="43.5" y1="540.2" x2="195" y2="540.2" stroke="#efefef" stroke-width="0.8"/>
<line x1="43.5" y1="554.5" x2="195" y2="554.5" stroke="#efefef" stroke-width="0.8"/>
<line x1="43.5" y1="568.8" x2="195" y2="568.8" stroke="#efefef" stroke-width="0.8"/>
<line x1="43.5" y1="583" x2="195" y2="583" stroke="#efefef" stroke-width="0.8"/>
<line x1="43.5" y1="597" x2="195" y2="597" stroke="#efefef" stroke-width="0.8"/>
<line x1="60.5" y1="508.2" x2="60.5" y2="609.9" stroke="#efefef" stroke-width="0.8"/>
<line x1="98.2" y1="508.2" x2="98.2" y2="609.9" stroke="#efefef" stroke-width="0.8"/>
<line x1="135.8" y1="508.2" x2="135.8" y2="609.9" stroke="#efefef" stroke-width="0.8"/>
<line x1="173.2" y1="508.2" x2="173.2" y2="609.9" stroke="#efefef" stroke-width="0.8"/>
<line x1="60.5" y1="501.9" x2="60.5" y2="515.2" stroke="#959595" stroke-width="1.0"/>
<line x1="60.5" y1="561.8" x2="60.5" y2="575.3" stroke="#959595" stroke-width="1.0"/>
<rect x="46.1" y="515.2" width="28.9" height="46.6" fill="#b7b7b7" stroke="#747474" stroke-width="0.9"/>
<line x1="46.1" y1="525.2" x2="75" y2="525.2" stroke="#555555" stroke-width="1.9"/>
<line x1="98.2" y1="507.4" x2="98.2" y2="531.6" stroke="#959595" stroke-width="1.0"/>
<rect x="83.9" y="531.6" width="28.5" height="68.2" fill="#66bd9b" stroke="#4a7d69" stroke-width="0.9"/>
<line x1="83.9" y1="571.3" x2="112.4" y2="571.3" stroke="#3d6b59" stroke-width="1.9"/>
<line x1="135.8" y1="576.2" x2="135.8" y2="591.7" stroke="#959595" stroke-width="1.0"/>
<rect x="121.6" y="558.9" width="28.3" height="17.3" fill="#ec8b5e" stroke="#8f5a3e" stroke-width="0.9"/>
<line x1="121.6" y1="575.8" x2="149.9" y2="575.8" stroke="#7a4a31" stroke-width="1.9"/>
<line x1="173.2" y1="561.5" x2="173.2" y2="573.9" stroke="#959595" stroke-width="1.0"/>
<rect x="159" y="573.9" width="28.5" height="20.8" fill="#9d98d5" stroke="#65628a" stroke-width="0.9"/>
<line x1="159" y1="585.7" x2="187.5" y2="585.7" stroke="#46445f" stroke-width="1.9"/>
<circle cx="62.9" cy="501.9" r="1.15" fill="#8a8a8a"/>
<circle cx="61.7" cy="575.3" r="1.15" fill="#8a8a8a"/>
<circle cx="96.5" cy="507.4" r="1.15" fill="#1e9c6c"/>
<circle cx="98.8" cy="531.6" r="1.15" fill="#1e9c6c"/>
<circle cx="96.5" cy="571.3" r="1.15" fill="#1e9c6c"/>
<circle cx="95.7" cy="599.5" r="1.15" fill="#1e9c6c"/>
<circle cx="134.3" cy="515.4" r="1.15" fill="#e8621f"/>
<circle cx="137.8" cy="558.9" r="1.15" fill="#e8621f"/>
<circle cx="133.7" cy="575.8" r="1.15" fill="#e8621f"/>
<circle cx="140.9" cy="592.1" r="1.15" fill="#e8621f"/>
<circle cx="171.1" cy="561" r="1.15" fill="#6a5fb6"/>
<circle cx="171.1" cy="578.2" r="1.15" fill="#6a5fb6"/>
<circle cx="178.9" cy="593.8" r="1.15" fill="#6a5fb6"/>
<circle cx="171.1" cy="597.2" r="1.15" fill="#6a5fb6"/>
<line x1="43.5" y1="508.2" x2="43.5" y2="609.9" stroke="#6a6a6a" stroke-width="1.15"/>
<text x="34.8" y="513.9" font-size="6.4" font-weight="bold" fill="#4a4a4a" text-anchor="start" textLength="7.8" lengthAdjust="spacingAndGlyphs" stroke="#4a4a4a" stroke-width="0.15">2.0</text>
<text x="34.8" y="542.5" font-size="6.4" font-weight="bold" fill="#4a4a4a" text-anchor="start" textLength="7.8" lengthAdjust="spacingAndGlyphs" stroke="#4a4a4a" stroke-width="0.15">1.5</text>
<text x="34.8" y="571.1" font-size="6.4" font-weight="bold" fill="#4a4a4a" text-anchor="start" textLength="7.8" lengthAdjust="spacingAndGlyphs" stroke="#4a4a4a" stroke-width="0.15">1.0</text>
<text x="48.4" y="489.6" font-size="12.4" font-weight="bold" fill="#111" text-anchor="start" textLength="120.7" lengthAdjust="spacingAndGlyphs" stroke="#111" stroke-width="0.3">CD8 Lag3 Expression</text>
<text transform="translate(29.3,580.7) rotate(-90)" font-size="8.0" font-weight="bold" fill="#1a1a1a" stroke="#1a1a1a" stroke-width="0.35" textLength="58.4" lengthAdjust="spacingAndGlyphs">Lag3 Expression</text>
<text x="50.5" y="613.7" font-size="10.3" font-weight="bold" fill="#111" text-anchor="start" textLength="32.8" lengthAdjust="spacingAndGlyphs" stroke="#111" stroke-width="0.2">Control</text>
<text x="88.7" y="613.7" font-size="10.3" font-weight="bold" fill="#111" text-anchor="start" textLength="20.0" lengthAdjust="spacingAndGlyphs" stroke="#111" stroke-width="0.2">Prog</text>
<text x="113.6" y="613.7" font-size="10.3" font-weight="bold" fill="#111" text-anchor="start" textLength="33.5" lengthAdjust="spacingAndGlyphs" stroke="#111" stroke-width="0.2">PD-1Ab</text>
<text x="152.5" y="613.7" font-size="10.3" font-weight="bold" fill="#111" text-anchor="start" textLength="31.4" lengthAdjust="spacingAndGlyphs" stroke="#111" stroke-width="0.2">Combo</text>
<path d="M173.40 545.60L173.40 552.20 M170.54 547.25L176.26 550.55 M170.54 550.55L176.26 547.25" stroke="#111" stroke-width="1.6" stroke-linecap="butt"/>
<line x1="215.3" y1="499" x2="368" y2="499" stroke="#efefef" stroke-width="0.8"/>
<line x1="215.3" y1="511" x2="368" y2="511" stroke="#efefef" stroke-width="0.8"/>
<line x1="215.3" y1="524.2" x2="368" y2="524.2" stroke="#efefef" stroke-width="0.8"/>
<line x1="215.3" y1="538" x2="368" y2="538" stroke="#efefef" stroke-width="0.8"/>
<line x1="215.3" y1="552.4" x2="368" y2="552.4" stroke="#efefef" stroke-width="0.8"/>
<line x1="215.3" y1="563" x2="368" y2="563" stroke="#efefef" stroke-width="0.8"/>
<line x1="215.3" y1="575" x2="368" y2="575" stroke="#efefef" stroke-width="0.8"/>
<line x1="215.3" y1="587" x2="368" y2="587" stroke="#efefef" stroke-width="0.8"/>
<line x1="234.4" y1="488.8" x2="234.4" y2="599.9" stroke="#efefef" stroke-width="0.8"/>
<line x1="272.2" y1="488.8" x2="272.2" y2="599.9" stroke="#efefef" stroke-width="0.8"/>
<line x1="309.7" y1="488.8" x2="309.7" y2="599.9" stroke="#efefef" stroke-width="0.8"/>
<line x1="347.2" y1="488.8" x2="347.2" y2="599.9" stroke="#efefef" stroke-width="0.8"/>
<line x1="234.4" y1="530.9" x2="234.4" y2="553.4" stroke="#959595" stroke-width="1.0"/>
<rect x="220.2" y="553.4" width="28.5" height="17.1" fill="#b7b7b7" stroke="#747474" stroke-width="0.9"/>
<line x1="220.2" y1="560.3" x2="248.7" y2="560.3" stroke="#555555" stroke-width="1.9"/>
<line x1="272.2" y1="586.5" x2="272.2" y2="598.6" stroke="#959595" stroke-width="1.0"/>
<rect x="258.2" y="571" width="28.1" height="15.5" fill="#66bd9b" stroke="#4a7d69" stroke-width="0.9"/>
<line x1="258.2" y1="578.4" x2="286.3" y2="578.4" stroke="#3d6b59" stroke-width="1.9"/>
<line x1="309.7" y1="573.6" x2="309.7" y2="585.7" stroke="#959595" stroke-width="1.0"/>
<rect x="295.7" y="531.3" width="28.0" height="42.3" fill="#ec8b5e" stroke="#8f5a3e" stroke-width="0.9"/>
<line x1="295.7" y1="552.3" x2="323.7" y2="552.3" stroke="#7a4a31" stroke-width="1.9"/>
<line x1="347.2" y1="506.7" x2="347.2" y2="515.7" stroke="#959595" stroke-width="1.0"/>
<line x1="347.2" y1="534.4" x2="347.2" y2="549.9" stroke="#959595" stroke-width="1.0"/>
<rect x="333.2" y="515.7" width="28.1" height="18.7" fill="#9d98d5" stroke="#65628a" stroke-width="0.9"/>
<line x1="333.2" y1="524" x2="361.3" y2="524" stroke="#46445f" stroke-width="1.9"/>
<circle cx="229.7" cy="530.9" r="1.15" fill="#8a8a8a"/>
<circle cx="236.9" cy="552.9" r="1.15" fill="#8a8a8a"/>
<circle cx="231.4" cy="560.3" r="1.15" fill="#8a8a8a"/>
<circle cx="237.1" cy="571.9" r="1.15" fill="#8a8a8a"/>
<circle cx="273.7" cy="529.2" r="1.15" fill="#1e9c6c"/>
<circle cx="275.1" cy="571" r="1.15" fill="#1e9c6c"/>
<circle cx="271.1" cy="578.4" r="1.15" fill="#1e9c6c"/>
<circle cx="276.8" cy="586.9" r="1.15" fill="#1e9c6c"/>
<circle cx="309" cy="530.9" r="1.15" fill="#e8621f"/>
<circle cx="311.6" cy="552.9" r="1.15" fill="#e8621f"/>
<circle cx="306.8" cy="573.9" r="1.15" fill="#e8621f"/>
<circle cx="307.8" cy="586" r="1.15" fill="#e8621f"/>
<circle cx="343.9" cy="506.7" r="1.15" fill="#6a5fb6"/>
<circle cx="351.3" cy="518.7" r="1.15" fill="#6a5fb6"/>
<circle cx="351.8" cy="529.5" r="1.15" fill="#6a5fb6"/>
<circle cx="346.1" cy="549.9" r="1.15" fill="#6a5fb6"/>
<line x1="215.3" y1="488.8" x2="215.3" y2="599.9" stroke="#6a6a6a" stroke-width="1.15"/>
<text x="210.4" y="501.4" font-size="6.4" font-weight="bold" fill="#4a4a4a" text-anchor="start" textLength="3.1" lengthAdjust="spacingAndGlyphs" stroke="#4a4a4a" stroke-width="0.15">4</text>
<text x="210.4" y="526.5" font-size="6.4" font-weight="bold" fill="#4a4a4a" text-anchor="start" textLength="3.1" lengthAdjust="spacingAndGlyphs" stroke="#4a4a4a" stroke-width="0.15">3</text>
<text x="210.4" y="554.7" font-size="6.4" font-weight="bold" fill="#4a4a4a" text-anchor="start" textLength="3.1" lengthAdjust="spacingAndGlyphs" stroke="#4a4a4a" stroke-width="0.15">2</text>
<text x="210.4" y="577.3" font-size="6.4" font-weight="bold" fill="#4a4a4a" text-anchor="start" textLength="3.1" lengthAdjust="spacingAndGlyphs" stroke="#4a4a4a" stroke-width="0.15">1</text>
<text x="220.9" y="489.7" font-size="12.4" font-weight="bold" fill="#111" text-anchor="start" textLength="122.5" lengthAdjust="spacingAndGlyphs" stroke="#111" stroke-width="0.3">CD8 BTLA Expression</text>
<text transform="translate(206.1,582) rotate(-90)" font-size="8.0" font-weight="bold" fill="#1a1a1a" stroke="#1a1a1a" stroke-width="0.35" textLength="61.2" lengthAdjust="spacingAndGlyphs">BTLA Expression</text>
<text x="222.3" y="612.0" font-size="10.3" font-weight="bold" fill="#111" text-anchor="start" textLength="32.7" lengthAdjust="spacingAndGlyphs" stroke="#111" stroke-width="0.2">Control</text>
<text x="260.1" y="612.0" font-size="10.3" font-weight="bold" fill="#111" text-anchor="start" textLength="20.4" lengthAdjust="spacingAndGlyphs" stroke="#111" stroke-width="0.2">Prog</text>
<text x="285.8" y="612.0" font-size="10.3" font-weight="bold" fill="#111" text-anchor="start" textLength="33.5" lengthAdjust="spacingAndGlyphs" stroke="#111" stroke-width="0.2">PD-1Ab</text>
<text x="324.4" y="612.0" font-size="10.3" font-weight="bold" fill="#111" text-anchor="start" textLength="30.9" lengthAdjust="spacingAndGlyphs" stroke="#111" stroke-width="0.2">Combo</text>
<path d="M347.90 496.90L347.90 503.50 M345.04 498.55L350.76 501.85 M345.04 501.85L350.76 498.55" stroke="#111" stroke-width="1.6" stroke-linecap="butt"/>
<text x="21.6" y="21.0" font-size="14" font-weight="bold" fill="#111" text-anchor="start" stroke="#111" stroke-width="0.45">A</text>
<rect x="172.3" y="554.4" width="2.2" height="1.4" fill="#333"/>
<rect x="339.6" y="387.2" width="2.2" height="1.3" fill="#555"/>
<rect x="105.4" y="179.8" width="2.2" height="1" fill="#8fb5a5"/>
<rect x="527" y="331.2" width="1" height="3" fill="#444"/>
<text x="31.6" y="578.2" font-size="3.6" font-weight="normal" fill="#999" text-anchor="start">1.0</text>
<text x="22.9" y="336.0" font-size="14.5" font-weight="bold" fill="#111" text-anchor="start" textLength="9.0" lengthAdjust="spacingAndGlyphs" stroke="#111" stroke-width="0.5">B</text>
</svg></body></html>
